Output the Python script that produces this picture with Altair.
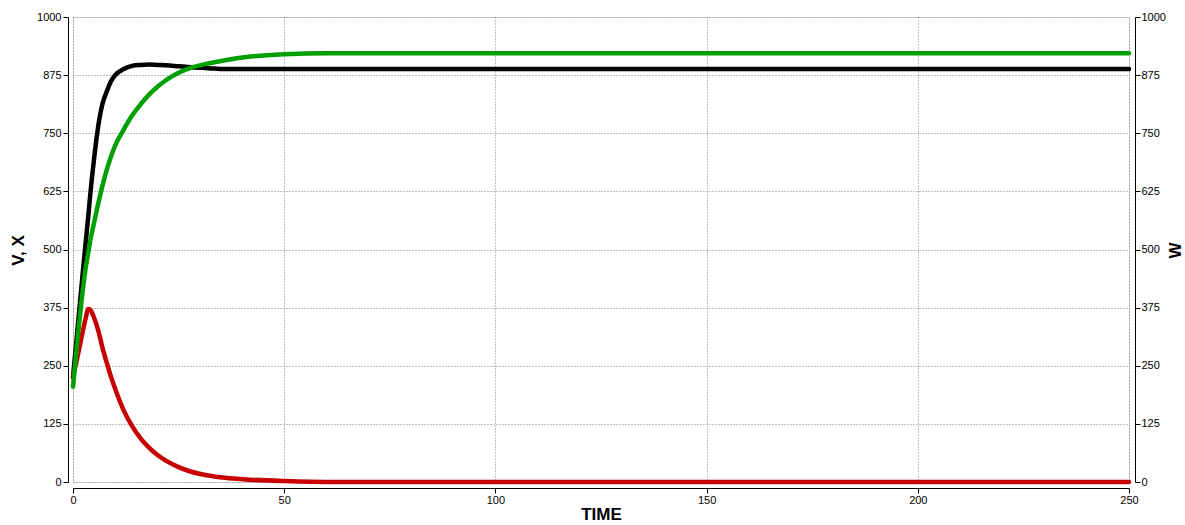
import altair as alt
import pandas as pd

# time points (TIME)
times = [0, 1, 2, 3, 3.6, 4, 5, 6, 7, 8, 9, 10, 12, 14, 16, 18, 20, 22, 25, 28, 32, 36, 42, 50, 60, 250]
# V (black, left axis)
v_vals = [225, 322, 420, 515, 570, 610, 696, 767, 814, 840, 862, 875, 888, 895, 897, 898, 897, 896, 894, 892, 890, 888, 888, 888, 888, 888]
# X (green, left axis)
x_vals = [205, 300, 388, 460, 492, 515, 558, 600, 638, 672, 700, 724, 758, 788, 812, 833, 850, 864, 880, 891, 900, 907, 915, 920, 922, 922]
# W (red, right axis)
w_vals = [225, 266, 310, 352, 372, 371, 353, 325, 288, 256, 226, 200, 154, 120, 94, 74, 58, 46, 32, 22, 14, 9, 5, 2, 0, 0]

x_ticks = [0, 50, 100, 150, 200, 250]
y_ticks = [0, 125, 250, 375, 500, 625, 750, 875, 1000]

df = pd.DataFrame({"t": times, "V": v_vals, "X": x_vals, "W": w_vals})

FONT = "Liberation Sans"
GRID = dict(grid=True, gridDash=[1, 2], gridColor="#808080", gridWidth=1)

x_enc = alt.X(
    "t:Q",
    scale=alt.Scale(domain=[0, 250], nice=False, zero=False),
    axis=alt.Axis(
        values=x_ticks, format="d", title="TIME", offset=6, tickSize=5, labelPadding=1,
        domainColor="#000000", tickColor="#000000", labelColor="#000000",
        labelFont=FONT, labelFontSize=11, labelFlush=False,
        titleFont=FONT, titleFontSize=17, titleFontWeight="bold", titleColor="#000000",
        titleY=26, titleBaseline="middle", **GRID,
    ),
)

yscale = alt.Scale(domain=[0, 1000], nice=False, zero=False)

black = alt.Chart(df).mark_line(color="#000000", strokeWidth=4.5, interpolate="monotone", strokeCap="round").encode(
    x=x_enc,
    y=alt.Y(
        "V:Q", scale=yscale,
        axis=alt.Axis(
            values=y_ticks, format="d", title="V, X", orient="left", offset=5, tickSize=5, labelPadding=2,
            domainColor="#000000", tickColor="#000000", labelColor="#000000",
            labelFont=FONT, labelFontSize=11, labelFlush=False,
            titleFont=FONT, titleFontSize=17, titleFontWeight="bold", titleColor="#000000",
            titleAngle=270, titleX=-50, titleY=233, titleAlign="center", titleBaseline="middle",
            **GRID,
        ),
    ),
)

red = alt.Chart(df).mark_line(color="#c80000", strokeWidth=4.5, interpolate="monotone", strokeCap="round").encode(
    x=x_enc,
    y=alt.Y(
        "W:Q", scale=yscale,
        axis=alt.Axis(
            values=y_ticks, format="d", title="W", orient="right", offset=6, tickSize=5, labelPadding=1,
            grid=False,
            domainColor="#000000", tickColor="#000000", labelColor="#000000",
            labelFont=FONT, labelFontSize=11, labelFlush=False,
            titleFont=FONT, titleFontSize=17, titleFontWeight="bold", titleColor="#000000",
            titleAngle=270, titleX=40, titleY=233, titleAlign="center", titleBaseline="middle",
        ),
    ),
)

green = alt.Chart(df).mark_line(color="#00a000", strokeWidth=4.5, interpolate="monotone", strokeCap="round").encode(
    x=x_enc,
    y=alt.Y("X:Q", scale=yscale, axis=None),
)

chart = alt.layer(black, red, green).resolve_scale(y="independent").properties(
    width=1056,
    height=465,
    autosize=alt.AutoSizeParams(type="none"),
    padding={"left": 73, "top": 17, "right": 56, "bottom": 43},
).configure_view(stroke=None).configure(background="#ffffff")

chart.save("out.html", embed_options={"renderer": "svg", "actions": False})
